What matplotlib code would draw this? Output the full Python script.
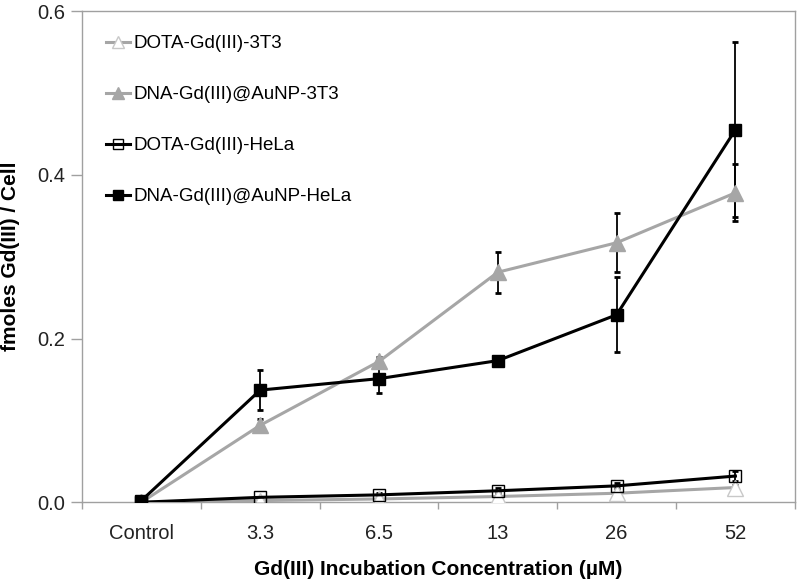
import matplotlib.pyplot as plt
import numpy as np

plt.rcParams['font.family'] = ['Liberation Sans', 'DejaVu Sans']

categories = ["Control", "3.3", "6.5", "13", "26", "52"]

dota_3t3 = [0.0, 0.002, 0.004, 0.007, 0.011, 0.018]
dota_3t3_err = [0.0, 0.001, 0.001, 0.002, 0.002, 0.003]

dna_3t3 = [0.0, 0.094, 0.172, 0.281, 0.317, 0.378]
dna_3t3_err = [0.0, 0.008, 0.005, 0.025, 0.036, 0.035]

dota_hela = [0.0, 0.006, 0.009, 0.014, 0.020, 0.032]
dota_hela_err = [0.0, 0.001, 0.002, 0.003, 0.003, 0.006]

dna_hela = [0.002, 0.137, 0.151, 0.173, 0.229, 0.455]
dna_hela_err = [0.0, 0.024, 0.018, 0.004, 0.046, 0.107]

GRAY = "#a6a6a6"
AXCOL = "#a0a0a0"

fig = plt.figure(figsize=(8, 5.84), dpi=100)
ax = fig.add_axes([0.1025, 0.140, 0.891, 0.841])

x = np.arange(len(categories))

def series(vals, err, color, marker, ms, face, edge, label):
    ax.errorbar(x, vals, yerr=err, fmt="none", ecolor="black", elinewidth=1.3,
                capsize=2.5, capthick=2, zorder=3)
    ax.plot(x, vals, color=color, lw=2.2, marker=marker, ms=ms,
            markerfacecolor=face, markeredgecolor=edge, markeredgewidth=1,
            label=label, zorder=4)

series(dota_3t3, dota_3t3_err, GRAY, "^", 11, "white", "#c8c8c8", "DOTA-Gd(III)-3T3")
series(dna_3t3, dna_3t3_err, GRAY, "^", 11, GRAY, GRAY, "DNA-Gd(III)@AuNP-3T3")
series(dota_hela, dota_hela_err, "black", "s", 9, "none", "black", "DOTA-Gd(III)-HeLa")
series(dna_hela, dna_hela_err, "black", "s", 9, "black", "black", "DNA-Gd(III)@AuNP-HeLa")

ax.set_xlim(-0.5, len(categories) - 0.5)
ax.set_ylim(0, 0.6)
ax.set_yticks([0.0, 0.2, 0.4, 0.6])
ax.set_yticklabels(["0.0", "0.2", "0.4", "0.6"])
ax.set_xticks(x)
ax.set_xticklabels(categories)
ax.set_xticks(np.arange(-0.5, len(categories)), minor=True)
ax.tick_params(axis="x", which="major", length=0, pad=16, labelsize=14.5, colors="#222222")
ax.tick_params(axis="x", which="minor", length=5, width=1, color=AXCOL)
ax.tick_params(axis="y", length=8, width=1, color=AXCOL, labelsize=14.5, pad=4)
for lab in ax.get_yticklabels():
    lab.set_color("#222222")

for s in ax.spines.values():
    s.set_color(AXCOL)
    s.set_linewidth(1)

ax.set_xlabel("Gd(III) Incubation Concentration (µM)", fontsize=15, fontweight="bold")
ax.xaxis.set_label_coords(0.5, -0.118)
ax.set_ylabel("fmoles Gd(III) / Cell", fontsize=15, fontweight="bold", va="center")
ax.yaxis.set_label_coords(-0.101, 0.5)

ax.legend(loc="upper left", bbox_to_anchor=(0.01, 0.985), frameon=False, fontsize=13.5,
          labelspacing=1.8, handlelength=1.3, handletextpad=0.15, markerscale=0.75)

fig.savefig("out.png", dpi=100)
